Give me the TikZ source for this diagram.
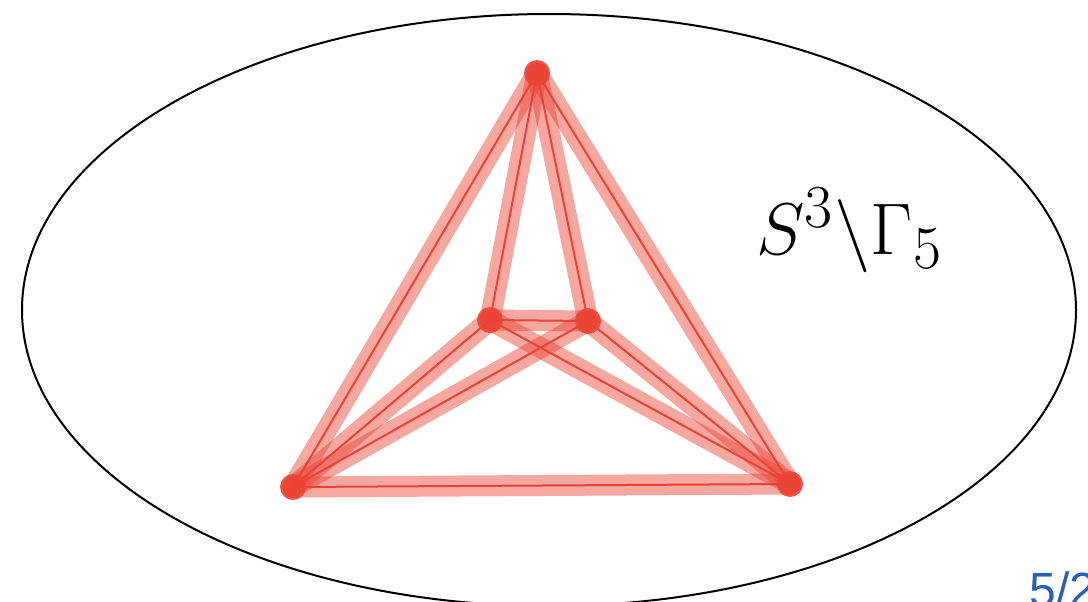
\documentclass[tikz,border=0pt]{standalone}
\usepackage{amsmath,amssymb}
\usepackage{xcolor}
\usepackage{fontspec}
\newfontfamily\pagefont{Liberation Sans}
\definecolor{edgered}{RGB}{234,67,53}
\definecolor{pageblue}{RGB}{45,95,185}

\begin{document}
\begin{tikzpicture}[
    x=0.5pt, y=-0.5pt,
    vertex/.style={circle, fill=edgered, fill opacity=0.9, minimum size=13pt, inner sep=0pt},
    band/.style={draw=edgered, draw opacity=0.47, line width=10.5pt, line cap=round},
    edge/.style={draw=edgered, line width=1pt, preaction={band}},
]
\clip (0,0) rectangle (1088,601);
\useasboundingbox (0,0) rectangle (1088,601);

% Complement of the graph
\draw[line width=1pt] (549,310) ellipse [x radius=527, y radius=296];
\node[anchor=base west, inner sep=0pt, scale=1.47, font=\fontsize{24.88}{30}\selectfont] (label) at (756,254) {$S^3\backslash\Gamma_5$};

% Vertices
\node[vertex] (top) at (537,73) {};
\node[vertex] (il) at (490,320) {};
\node[vertex] (ir) at (588,321) {};
\node[vertex] (bl) at (293,487) {};
\node[vertex] (br) at (790,484) {};

% Edges
\draw[edge] (top.center) -- (bl.center);
\draw[edge] (top.center) -- (br.center);
\draw[edge] (top.center) -- (il.center);
\draw[edge] (top.center) -- (ir.center);
\draw[edge] (il.center) -- (ir.center);
\draw[edge] (bl.center) -- (br.center);
\draw[edge] (il.center) -- (bl.center);
\draw[edge] (il.center) -- (br.center);
\draw[edge] (ir.center) -- (bl.center);
\draw[edge] (ir.center) -- (br.center);

% Page number
\node[anchor=base west, inner sep=0pt, text=pageblue, font=\pagefont\fontsize{24}{29}\selectfont] (page) at (1029,606) {5/2};
\end{tikzpicture}
\end{document}
